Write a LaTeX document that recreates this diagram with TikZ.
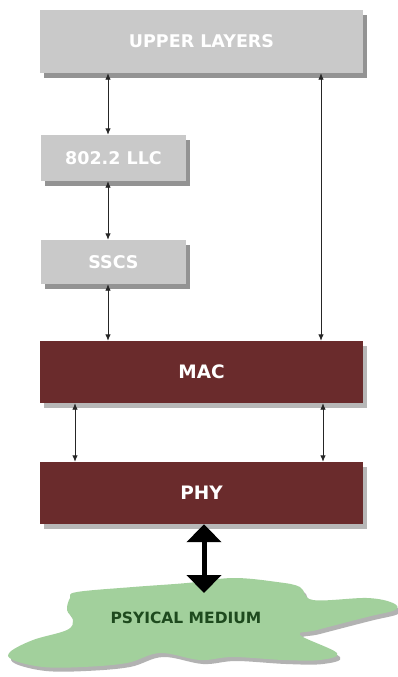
\documentclass[tikz,border=0pt]{standalone}
\usepackage{fontspec}
\setmainfont{DejaVu Sans}
\usetikzlibrary{shadows,arrows.meta}
\definecolor{boxgray}{HTML}{C9C9C9}
\definecolor{maroon}{HTML}{6A2B2C}
\definecolor{blobgreen}{HTML}{A2D09C}
\definecolor{textgreen}{HTML}{1E4A1E}
\tikzset{
  graybox/.style={fill=boxgray, text=white, font=\bfseries\fontsize{17.5}{20}\selectfont, inner sep=0pt,
    drop shadow={shadow xshift=4pt, shadow yshift=-5pt, opacity=0.6, fill=black!70}},
  redbox/.style={fill=maroon, text=white, font=\bfseries\fontsize{18.5}{21}\selectfont, inner sep=0pt,
    minimum width=323pt, minimum height=62pt,
    drop shadow={shadow xshift=4pt, shadow yshift=-5pt, opacity=0.4, fill=black!70}},
  biarrow/.style={draw=black!85, line width=0.9pt, {Latex[length=6.5pt,width=5.5pt]}-{Latex[length=6.5pt,width=5.5pt]}},
  bigarrow/.style={draw=black, line width=5pt, {Triangle[length=18pt,width=34pt]}-{Triangle[length=18pt,width=34pt]}}
}
\begin{document}
\begin{tikzpicture}[x=1pt,y=-1pt]
\useasboundingbox[fill=white] (0,0) rectangle (398,677);
\node[graybox, minimum width=323pt, minimum height=63pt] (upper) at (201.5,41.5) {UPPER LAYERS};
\node[graybox, minimum width=145pt, minimum height=46pt] (llc) at (113.5,158) {802.2 LLC};
\node[graybox, minimum width=145pt, minimum height=44pt] (sscs) at (113.5,262) {SSCS};
\node[redbox] (mac) at (201.5,372) {MAC};
\node[redbox] (phy) at (201.5,493) {PHY};
% medium blob
\fill[black!60, opacity=0.5, shift={(3,4)}] plot[smooth cycle, tension=0.6] coordinates {
 (77,592) (133,587) (187,583) (233,578) (277,582) (300,587) (313,600) (367,598) (393,603) (395,610)
 (367,617) (317,630) (300,635) (337,653) (320,660) (283,660) (233,657) (200,660) (160,653) (127,663)
 (83,667) (43,667) (13,660) (10,652) (33,640) (67,630) (73,620) (67,610) (70,598)};
\fill[blobgreen] plot[smooth cycle, tension=0.6] coordinates {
 (77,592) (133,587) (187,583) (233,578) (277,582) (300,587) (313,600) (367,598) (393,603) (395,610)
 (367,617) (317,630) (300,635) (337,653) (320,660) (283,660) (233,657) (200,660) (160,653) (127,663)
 (83,667) (43,667) (13,660) (10,652) (33,640) (67,630) (73,620) (67,610) (70,598)};
\node[text=textgreen, font=\bfseries\fontsize{15.5}{19}\selectfont] (medium) at (186,618) {PSYICAL MEDIUM};
\coordinate (medtop) at (204,593);
% connectors
\coordinate (xa) at (108,0);
\coordinate (xb) at (321,0);
\coordinate (xc) at (75,0);
\coordinate (xd) at (323,0);
\coordinate (xe) at (204,0);
\draw[biarrow] (upper.south -| xa) -- (llc.north -| xa);
\draw[biarrow] (llc.south -| xa) -- (sscs.north -| xa);
\draw[biarrow] (sscs.south -| xa) -- (mac.north -| xa);
\draw[biarrow] (upper.south -| xb) -- (mac.north -| xb);
\draw[biarrow] (mac.south -| xc) -- (phy.north -| xc);
\draw[biarrow] (mac.south -| xd) -- (phy.north -| xd);
\draw[bigarrow] (phy.south -| xe) -- (medtop);
\end{tikzpicture}
\end{document}
